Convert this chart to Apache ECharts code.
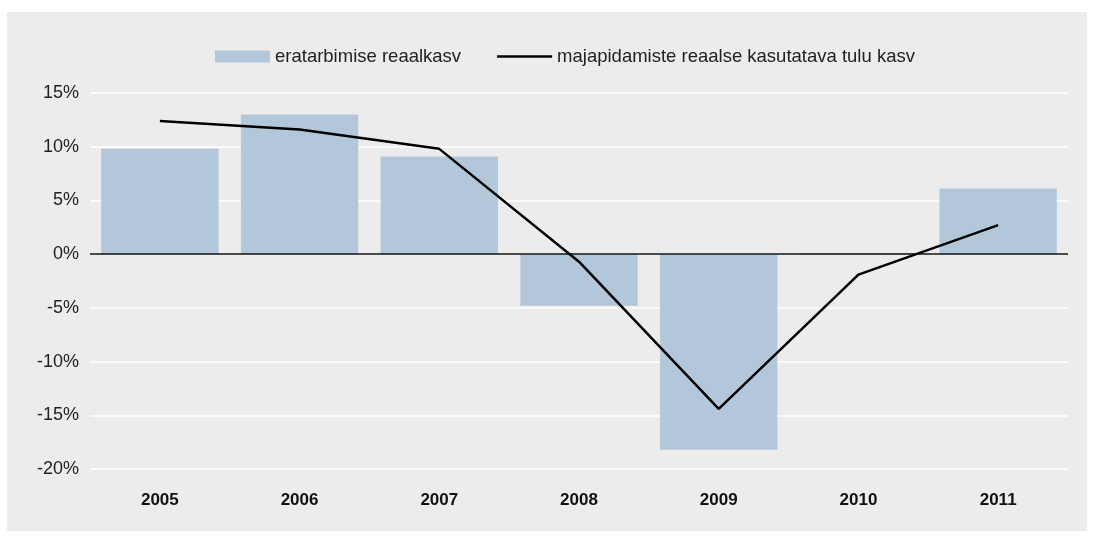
<!DOCTYPE html>
<html lang="et">
<head>
<meta charset="UTF-8">
<title>eratarbimise reaalkasv</title>
<script src="https://cdn.jsdelivr.net/npm/echarts@6/dist/echarts.min.js"></script>
<style>
  body { margin: 0; background: #fff; }
  #main { width: 1094px; height: 536px; }
</style>
</head>
<body>
<div id="main"></div>
<script>
// andmed
var years = ['2005', '2006', '2007', '2008', '2009', '2010', '2011'];
var consumption = [9.8, 13.0, 9.1, -4.8, -18.2, 0.1, 6.1];   // eratarbimise reaalkasv
var income = [12.4, 11.6, 9.8, -0.7, -14.4, -1.9, 2.7];      // majapidamiste reaalse kasutatava tulu kasv

var myChart = echarts.init(document.getElementById('main'));
var font = '"Liberation Sans", Arial, Helvetica, sans-serif';

var option = {
    backgroundColor: '#ffffff',
    animation: false,
    textStyle: { fontFamily: font },
    graphic: [{
        type: 'rect',
        shape: { x: 7, y: 12, width: 1080, height: 519 },
        style: { fill: '#ebeceb' },
        z: -10
    }],
    legend: {
        top: 42,
        left: 210,
        itemGap: 36,
        textStyle: { fontSize: 18.5, color: '#222', fontFamily: font },
        data: [
            { name: 'eratarbimise reaalkasv', icon: 'rect' },
            {
                name: 'majapidamiste reaalse kasutatava tulu kasv',
                icon: 'path://M0,0 H55 V2.6 H0 Z',
                itemStyle: { color: '#000' }
            }
        ],
        itemWidth: 55,
        itemHeight: 12
    },
    grid: {
        left: 90,
        right: 26,
        top: 93,
        bottom: 67
    },
    xAxis: {
        type: 'category',
        data: years,
        axisLine: { show: false },
        axisTick: { show: false },
        axisLabel: {
            margin: 23,
            fontSize: 17,
            fontWeight: 'bold',
            color: '#111'
        }
    },
    yAxis: {
        type: 'value',
        min: -20,
        max: 15,
        interval: 5,
        axisLine: { show: false },
        axisTick: { show: false },
        splitLine: { lineStyle: { color: '#ffffff', width: 1.5 } },
        axisLabel: {
            margin: 11,
            fontSize: 18,
            color: '#222',
            formatter: '{value}%'
        }
    },
    series: [{
        name: 'eratarbimise reaalkasv',
        type: 'bar',
        data: consumption,
        barCategoryGap: '16%',
        itemStyle: { color: '#b3c7db' },
        markLine: {
            silent: true,
            symbol: 'none',
            label: { show: false },
            lineStyle: { color: '#111', width: 1.5, type: 'solid' },
            data: [{ yAxis: 0 }],
            z: 5
        }
    }, {
        name: 'majapidamiste reaalse kasutatava tulu kasv',
        type: 'line',
        data: income,
        symbol: 'none',
        lineStyle: { color: '#000', width: 2.5 },
        itemStyle: { color: '#000' },
        z: 10
    }]
};
myChart.setOption(option);
</script>
</body>
</html>
